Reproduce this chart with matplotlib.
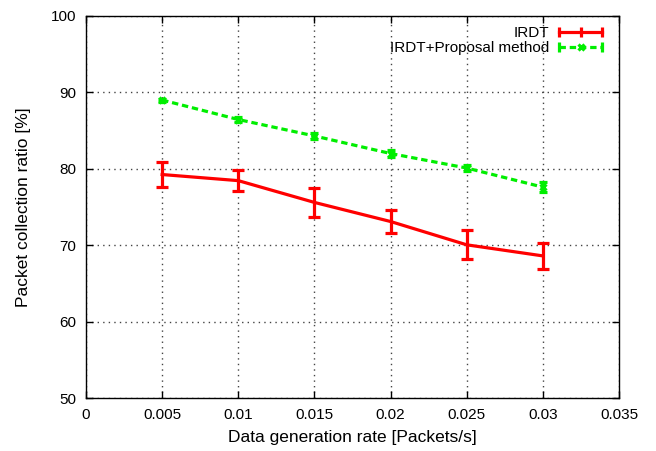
import matplotlib
matplotlib.use("Agg")
import matplotlib.pyplot as plt
from matplotlib.lines import Line2D
from matplotlib.legend_handler import HandlerLine2D, HandlerTuple

rates = [0.005, 0.01, 0.015, 0.02, 0.025, 0.03]
irdt = [79.25, 78.45, 75.6, 73.1, 70.05, 68.6]
irdt_err = [1.6, 1.4, 1.85, 1.55, 1.9, 1.7]
proposal = [89.0, 86.45, 84.3, 82.0, 80.1, 77.6]
proposal_err = [0.2, 0.3, 0.35, 0.4, 0.35, 0.7]
xticks = [0, 0.005, 0.01, 0.015, 0.02, 0.025, 0.03, 0.035]
xticklabels = ["0", "0.005", "0.01", "0.015", "0.02", "0.025", "0.03", "0.035"]
yticks = [50, 60, 70, 80, 90, 100]

RED = '#ff0000'
GREEN = '#00ee00'
DASH = (0, (2.0, 1.2))

plt.rcParams['font.family'] = ['Liberation Sans', 'DejaVu Sans']

fig = plt.figure(figsize=(6.56, 4.51), dpi=100)
ax = fig.add_axes([86/656, (451-398)/451, 533/656, 382/451])

ax.errorbar(rates, irdt, yerr=irdt_err, color=RED, lw=2.3, capsize=4,
            capthick=2.3, elinewidth=2.3, zorder=3)
ax.errorbar(rates, proposal, yerr=proposal_err, color=GREEN, lw=2.3,
            ls=DASH, marker='x', ms=5, mew=2.3, capsize=3,
            capthick=2.3, elinewidth=2.3, zorder=3)

ax.set_xlim(0, 0.035)
ax.set_ylim(50, 100)
ax.set_xticks(xticks)
ax.set_xticklabels(xticklabels)
ax.set_yticks(yticks)
ax.tick_params(direction='in', top=True, right=True, labelsize=11, length=5,
               width=1, pad=7)
ax.grid(True, color='#444444', ls=(0, (1, 3)), lw=1.0)
for s in ax.spines.values():
    s.set_linewidth(1.0)

ax.set_xlabel('Data generation rate [Packets/s]', fontsize=12.5, labelpad=6)
ax.set_ylabel('Packet collection ratio [%]', fontsize=12.5, labelpad=14)

# gnuplot-style legend samples
red_h = Line2D([], [], color=RED, lw=2.3, marker='|', ms=7, mew=2.3)
green_line = Line2D([], [], color=GREEN, lw=2.3, ls=DASH, marker='x', ms=5, mew=2.3)
green_caps = Line2D([], [], color=GREEN, lw=0, marker='|', ms=7, mew=2.3)
hmap = {red_h: HandlerLine2D(numpoints=3, marker_pad=0),
        green_line: HandlerLine2D(numpoints=1),
        green_caps: HandlerLine2D(numpoints=2, marker_pad=0)}

leg = ax.legend([red_h, (green_line, green_caps)],
                ['IRDT', 'IRDT+Proposal method'],
                handler_map={**hmap, tuple: HandlerTuple(ndivide=1, pad=0)},
                loc='upper right', bbox_to_anchor=(0.968, 0.974),
                frameon=False, markerfirst=False, fontsize=11,
                handlelength=2.8, borderpad=0, borderaxespad=0,
                labelspacing=0.1, handletextpad=0.65)
for t in leg.get_texts():
    t.set_ha('right')

fig.savefig('out.png', dpi=100)
